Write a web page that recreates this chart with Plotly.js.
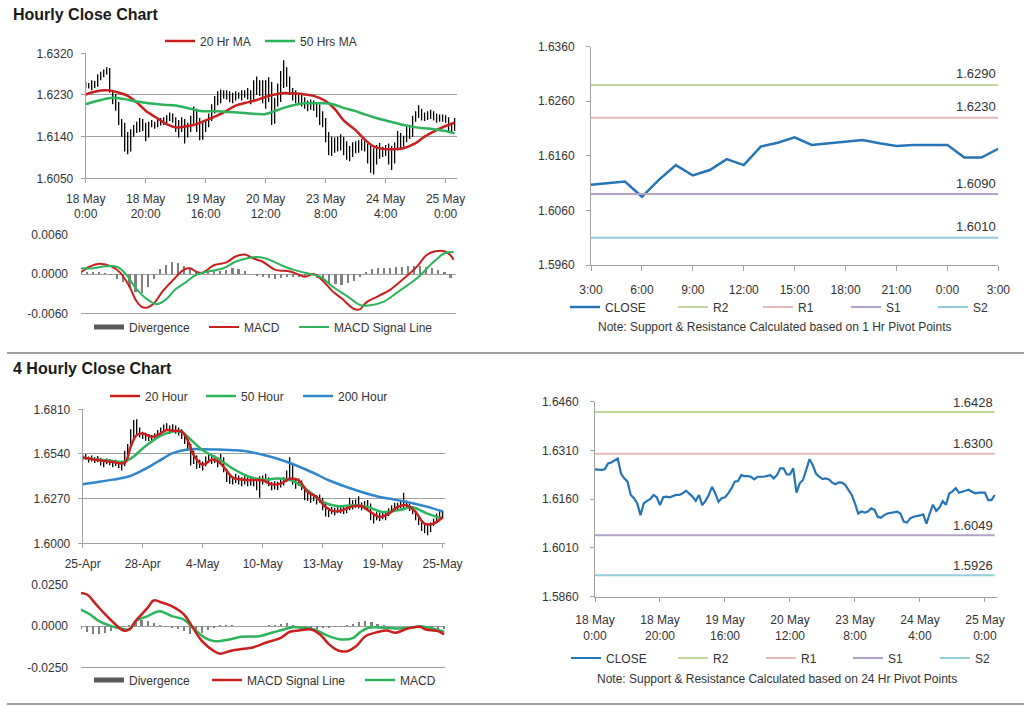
<!DOCTYPE html>
<html><head><meta charset="utf-8">
<script src="https://cdn.plot.ly/plotly-3.0.1.min.js"></script>
<style>html,body{margin:0;padding:0;background:#fff;}#chart{width:1024px;height:706px;}</style>
</head><body><div id="chart"></div>
<script>
// ---------- Hourly data (18 May 0:00 -> 25 May 3:00) ----------
const hourTickLabels = ['18 May<br>0:00','18 May<br>20:00','19 May<br>16:00','20 May<br>12:00','23 May<br>8:00','24 May<br>4:00','25 May<br>0:00'];
const hourlyClose = [
1.6252,1.6250,1.6250,1.6252,1.6270,1.6273,1.6278,1.6285,1.6239,1.6224,
1.6214,1.6173,1.6163,1.6147,1.6111,1.6147,1.6155,1.6160,1.6173,1.6166,
1.6142,1.6166,1.6168,1.6166,1.6170,1.6173,1.6173,1.6178,1.6186,1.6178,
1.6168,1.6155,1.6173,1.6142,1.6155,1.6173,1.6198,1.6178,1.6152,1.6163,
1.6166,1.6178,1.6193,1.6214,1.6216,1.6234,1.6231,1.6231,1.6229,1.6221,
1.6229,1.6229,1.6229,1.6232,1.6234,1.6224,1.6234,1.6255,1.6255,1.6236,
1.6236,1.6255,1.6180,1.6209,1.6219,1.6250,1.6283,1.6265,1.6239,1.6229,
1.6222,1.6224,1.6221,1.6211,1.6206,1.6212,1.6211,1.6204,1.6188,1.6173,
1.6147,1.6116,1.6122,1.6119,1.6122,1.6132,1.6127,1.6106,1.6103,1.6111,
1.6116,1.6118,1.6122,1.6122,1.6116,1.6091,1.6088,1.6101,1.6106,
1.6107,1.6110,1.6113,1.6085,1.6116,1.6143,1.6124,1.6134,1.6154,1.6143,
1.6177,1.6184,1.6194,1.6180,1.6183,1.6187,1.6189,1.6183,1.6178,1.6180,
1.6180,1.6180,1.6157,1.6157,1.6173];
const hourlyHigh = [
1.6258,1.6256,1.6262,1.6260,1.6275,1.6280,1.6285,1.6290,1.6288,1.6240,
1.6232,1.6215,1.6178,1.6170,1.6150,1.6156,1.6165,1.6172,1.6180,1.6178,
1.6170,1.6172,1.6176,1.6172,1.6178,1.6180,1.6182,1.6186,1.6192,1.6190,
1.6182,1.6176,1.6182,1.6178,1.6170,1.6185,1.6205,1.6200,1.6180,1.6172,
1.6175,1.6190,1.6210,1.6228,1.6238,1.6242,1.6240,1.6240,1.6238,1.6235,
1.6238,1.6236,1.6240,1.6240,1.6245,1.6240,1.6262,1.6270,1.6262,1.6262,
1.6262,1.6268,1.6258,1.6224,1.6255,1.6282,1.6305,1.6290,1.6270,1.6245,
1.6240,1.6234,1.6230,1.6225,1.6218,1.6220,1.6218,1.6215,1.6210,1.6195,
1.6180,1.6150,1.6140,1.6138,1.6140,1.6145,1.6140,1.6130,1.6120,1.6128,
1.6130,1.6132,1.6135,1.6132,1.6125,1.6120,1.6115,1.6122,1.6126,
1.6118,1.6122,1.6125,1.6120,1.6128,1.6152,1.6148,1.6142,1.6162,1.6160,
1.6185,1.6195,1.6208,1.6200,1.6192,1.6195,1.6198,1.6195,1.6190,1.6188,
1.6188,1.6186,1.6182,1.6170,1.6180];
const hourlyLow = [
1.6245,1.6244,1.6240,1.6245,1.6248,1.6262,1.6268,1.6274,1.6235,1.6210,
1.6196,1.6165,1.6140,1.6108,1.6102,1.6108,1.6140,1.6148,1.6150,1.6152,
1.6130,1.6138,1.6160,1.6157,1.6160,1.6164,1.6165,1.6168,1.6174,1.6170,
1.6150,1.6138,1.6150,1.6125,1.6138,1.6150,1.6168,1.6150,1.6132,1.6133,
1.6150,1.6160,1.6174,1.6190,1.6208,1.6212,1.6222,1.6220,1.6214,1.6212,
1.6218,1.6222,1.6218,1.6224,1.6220,1.6210,1.6218,1.6230,1.6228,1.6212,
1.6200,1.6215,1.6165,1.6168,1.6205,1.6215,1.6245,1.6248,1.6230,1.6218,
1.6212,1.6212,1.6205,1.6200,1.6195,1.6198,1.6196,1.6182,1.6165,1.6160,
1.6128,1.6100,1.6098,1.6105,1.6108,1.6110,1.6100,1.6090,1.6087,1.6096,
1.6104,1.6105,1.6110,1.6108,1.6082,1.6062,1.6058,1.6080,1.6092,
1.6096,1.6098,1.6080,1.6068,1.6082,1.6110,1.6115,1.6118,1.6128,1.6135,
1.6140,1.6172,1.6180,1.6175,1.6174,1.6176,1.6178,1.6175,1.6170,1.6172,
1.6172,1.6170,1.6150,1.6148,1.6152];
const ma20HourX = [0,3,7,10,14,17,20,24,27,30,34,37,40,44,47,50,54,57,60,63,66,70,73,76,80,83,86,90,93,96,100,103,106,110,113,116,120,123];
const ma20Hour  = [1.6231,1.6237,1.6240,1.6237,1.6228,1.6214,1.6196,1.6179,1.6167,1.6160,1.6163,1.6167,1.6175,1.6186,1.6196,1.6207,1.6214,1.6219,1.6226,1.6231,1.6234,1.6233,1.6231,1.6228,1.6217,1.6200,1.6175,1.6154,1.6134,1.6119,1.6113,1.6113,1.6115,1.6126,1.6140,1.6151,1.6163,1.6170];
const ma50HourX = [0,5,9,13,17,21,26,30,35,39,44,48,53,57,60,63,66,70,73,76,80,83,86,90,93,96,100,103,106,110,113,116,120,123];
const ma50Hour  = [1.6210,1.6219,1.6224,1.6221,1.6216,1.6212,1.6209,1.6207,1.6200,1.6195,1.6195,1.6193,1.6191,1.6189,1.6189,1.6195,1.6202,1.6209,1.6212,1.6212,1.6212,1.6209,1.6202,1.6195,1.6188,1.6182,1.6175,1.6170,1.6165,1.6160,1.6158,1.6156,1.6152,1.6147];
// hourly MACD
const macdHourX = [0,3,6,10,13,16,18,20,22,24,27,30,34,36,38,40,44,48,51,54,57,60,64,69,72,74,77,80,83,86,90,92,94,98,102,106,111,114,117,120,122,123];
const macdHour  = [0.0003,0.0012,0.0016,0.0012,0.0002,-0.0019,-0.0039,-0.0050,-0.0051,-0.0045,-0.0026,-0.0011,0.0007,0.0009,0.0004,0.0002,0.0014,0.0018,0.0027,0.0030,0.0024,0.0019,0.0007,0.0004,-0.0001,-0.0004,0.0000,-0.0011,-0.0026,-0.0037,-0.0053,-0.0054,-0.0044,-0.0034,-0.0024,-0.0009,0.0012,0.0029,0.0035,0.0035,0.0029,0.0022];
const signalHourX = [0,4,8,12,15,18,22,25,28,31,35,38,42,47,51,57,61,66,70,74,79,83,88,92,95,100,105,111,116,120,123];
const signalHour  = [0.0009,0.0009,0.0012,0.0011,-0.0001,-0.0021,-0.0039,-0.0046,-0.0039,-0.0024,-0.0011,-0.0001,0.0004,0.0009,0.0019,0.0026,0.0024,0.0014,0.0007,0.0002,-0.0004,-0.0019,-0.0034,-0.0047,-0.0048,-0.0042,-0.0026,-0.0006,0.0017,0.0032,0.0034];
const divergenceHour = [0.0002,0.0003,0.0004,0.0004,0.0002,-0.0002,-0.0007,-0.0012,-0.0020,-0.0027,
-0.0029,-0.0020,-0.0008,0.0008,0.0014,0.0018,0.0017,0.0012,0.0008,0.0004,
0.0001,0.0003,0.0006,0.0005,0.0007,0.0009,0.0008,0.0005,0.0001,-0.0003,
-0.0005,-0.0006,-0.0007,-0.0006,-0.0005,-0.0004,-0.0004,-0.0003,-0.0001,-0.0006,
-0.0010,-0.0013,-0.0015,-0.0016,-0.0014,-0.0010,-0.0005,0.0003,0.0008,0.0009,
0.0010,0.0010,0.0011,0.0011,0.0012,0.0013,0.0012,0.0011,0.0010,0.0007,
0.0003,-0.0006];
// last 24 hours (1 Hr pivots)
const dayTickLabels = ['3:00','6:00','9:00','12:00','15:00','18:00','21:00','0:00','3:00'];
const pivotNames = ['R2','R1','S1','S2'];
const pivots1h = [1.6290,1.6230,1.6090,1.6010];
const pivots24h = [1.6428,1.6300,1.6049,1.5926];

// ---------- 4 Hourly data (25 Apr -> 25 May) ----------
const fourTickLabels = ['25-Apr','28-Apr','4-May','10-May','13-May','19-May','25-May'];
const fourClose = [
1.6519,1.6523,1.6507,1.6513,1.6503,1.6507,1.6493,1.6482,1.6497,1.6493,
1.6482,1.6486,1.6478,1.6472,1.6513,1.6563,1.6634,1.6675,1.6715,1.6664,
1.6654,1.6644,1.6640,1.6634,1.6644,1.6664,1.6675,1.6695,1.6705,1.6681,
1.6695,1.6685,1.6675,1.6654,1.6634,1.6604,1.6493,1.6523,1.6472,1.6482,
1.6462,1.6493,1.6523,1.6503,1.6507,1.6482,1.6513,1.6462,1.6412,1.6391,
1.6381,1.6391,1.6381,1.6371,1.6381,1.6371,1.6377,1.6371,1.6361,1.6381,
1.6381,1.6397,1.6371,1.6341,1.6351,1.6345,1.6361,1.6371,1.6391,1.6412,
1.6381,1.6351,1.6371,1.6351,1.6290,1.6280,1.6270,1.6280,1.6260,1.6270,
1.6240,1.6189,1.6179,1.6199,1.6189,1.6209,1.6203,1.6195,1.6203,1.6220,
1.6230,1.6240,1.6230,1.6220,1.6230,1.6240,1.6179,1.6149,1.6169,1.6159,
1.6169,1.6163,1.6189,1.6209,1.6224,1.6220,1.6230,1.6224,1.6236,1.6220,
1.6203,1.6169,1.6139,1.6108,1.6098,1.6078,1.6098,1.6128,1.6159,1.6169,1.6169];
const fourHigh = [
1.6535,1.6540,1.6525,1.6530,1.6520,1.6528,1.6515,1.6505,1.6512,1.6510,
1.6500,1.6505,1.6498,1.6495,1.6560,1.6600,1.6690,1.6745,1.6750,1.6700,
1.6675,1.6668,1.6660,1.6655,1.6665,1.6685,1.6700,1.6718,1.6725,1.6712,
1.6720,1.6712,1.6700,1.6690,1.6665,1.6640,1.6600,1.6560,1.6530,1.6505,
1.6495,1.6525,1.6545,1.6535,1.6530,1.6520,1.6540,1.6520,1.6450,1.6415,
1.6405,1.6420,1.6410,1.6400,1.6405,1.6400,1.6400,1.6395,1.6390,1.6405,
1.6410,1.6420,1.6400,1.6370,1.6375,1.6372,1.6385,1.6400,1.6440,1.6520,
1.6480,1.6395,1.6392,1.6380,1.6345,1.6310,1.6300,1.6300,1.6290,1.6295,
1.6275,1.6240,1.6205,1.6220,1.6215,1.6230,1.6228,1.6220,1.6225,1.6275,
1.6260,1.6265,1.6285,1.6248,1.6255,1.6262,1.6240,1.6180,1.6190,1.6185,
1.6190,1.6188,1.6212,1.6230,1.6245,1.6245,1.6255,1.6305,1.6258,1.6245,
1.6225,1.6200,1.6165,1.6135,1.6120,1.6110,1.6125,1.6150,1.6180,1.6195,1.6198];
const fourLow = [
1.6500,1.6505,1.6488,1.6495,1.6485,1.6490,1.6470,1.6460,1.6478,1.6472,
1.6460,1.6468,1.6455,1.6440,1.6468,1.6520,1.6590,1.6640,1.6660,1.6640,
1.6630,1.6620,1.6618,1.6610,1.6622,1.6640,1.6652,1.6670,1.6680,1.6660,
1.6672,1.6662,1.6652,1.6630,1.6600,1.6560,1.6470,1.6480,1.6450,1.6455,
1.6440,1.6465,1.6495,1.6480,1.6485,1.6460,1.6490,1.6430,1.6370,1.6360,
1.6355,1.6365,1.6355,1.6345,1.6355,1.6345,1.6350,1.6345,1.6320,1.6275,
1.6355,1.6372,1.6345,1.6320,1.6325,1.6322,1.6338,1.6350,1.6370,1.6385,
1.6355,1.6330,1.6348,1.6320,1.6260,1.6255,1.6245,1.6255,1.6235,1.6245,
1.6200,1.6162,1.6158,1.6175,1.6168,1.6185,1.6182,1.6175,1.6182,1.6200,
1.6205,1.6215,1.6210,1.6200,1.6205,1.6205,1.6140,1.6120,1.6140,1.6135,
1.6145,1.6140,1.6165,1.6190,1.6200,1.6200,1.6210,1.6200,1.6210,1.6195,
1.6175,1.6140,1.6110,1.6075,1.6060,1.6048,1.6068,1.6105,1.6135,1.6145,1.6148];
const ma20FourX = [0,5,10,14,16,18,20,23,25,28,30,33,35,37,40,43,45,47,50,53,56,60,63,66,69,72,75,78,81,84,87,90,93,96,99,102,105,108,111,114,117,120];
const ma20Four  = [1.6519,1.6503,1.6491,1.6486,1.6584,1.6654,1.6664,1.6644,1.6654,1.6685,1.6681,1.6675,1.6624,1.6533,1.6475,1.6505,1.6497,1.6462,1.6397,1.6385,1.6381,1.6381,1.6357,1.6361,1.6391,1.6381,1.6310,1.6280,1.6220,1.6193,1.6203,1.6224,1.6224,1.6189,1.6159,1.6179,1.6220,1.6230,1.6189,1.6119,1.6119,1.6159];
const ma50FourX = [0,5,10,14,17,20,25,30,33,35,40,45,50,55,60,65,70,75,80,85,90,95,100,105,110,115,120];
const ma50Four  = [1.6519,1.6507,1.6497,1.6495,1.6525,1.6573,1.6640,1.6675,1.6673,1.6644,1.6563,1.6513,1.6452,1.6406,1.6385,1.6391,1.6377,1.6321,1.6250,1.6224,1.6230,1.6220,1.6189,1.6199,1.6216,1.6179,1.6149];
const ma200FourX = [0,5,10,15,20,25,30,35,40,45,50,55,60,66,71,77,82,88,93,99,104,110,115,120];
const ma200Four  = [1.6357,1.6370,1.6385,1.6402,1.6442,1.6493,1.6545,1.6567,1.6569,1.6567,1.6563,1.6555,1.6535,1.6505,1.6472,1.6425,1.6381,1.6340,1.6310,1.6280,1.6264,1.6242,1.6220,1.6192];
// 4 hourly MACD
const signalFourX = [0,2,5,8,12,14,16,18,22,24,27,30,34,37,40,44,46,49,52,57,61,66,69,72,76,79,82,85,88,91,94,98,101,104,108,112,114,118,120];
const signalFour  = [0.0202,0.0192,0.0132,0.0071,0.0000,-0.0026,-0.0020,0.0030,0.0111,0.0156,0.0142,0.0121,0.0071,-0.0010,-0.0091,-0.0152,-0.0168,-0.0152,-0.0142,-0.0128,-0.0101,-0.0071,-0.0034,-0.0026,-0.0020,-0.0051,-0.0111,-0.0148,-0.0152,-0.0121,-0.0061,-0.0036,-0.0026,-0.0040,-0.0014,-0.0004,-0.0020,-0.0030,-0.0051];
const macdFourX = [0,3,6,10,13,16,18,22,26,30,34,37,41,44,49,53,59,63,67,70,73,77,82,86,90,92,95,100,104,109,112,116,120];
const macdFour  = [0.0101,0.0071,0.0030,0.0000,-0.0014,-0.0020,0.0030,0.0061,0.0091,0.0061,0.0040,-0.0010,-0.0071,-0.0091,-0.0081,-0.0065,-0.0061,-0.0040,-0.0020,-0.0006,-0.0010,-0.0020,-0.0061,-0.0081,-0.0071,-0.0040,-0.0010,-0.0010,-0.0014,-0.0010,0.0000,-0.0014,-0.0034];
const divergenceFour = [-0.0020,-0.0035,-0.0045,-0.0045,-0.0040,-0.0030,-0.0015,-0.0005,0.0010,0.0025,
0.0035,0.0030,0.0020,0.0005,-0.0005,-0.0010,-0.0020,-0.0030,-0.0045,-0.0050,
-0.0040,-0.0025,-0.0010,0.0005,0.0005,0.0004,0.0003,0.0003,0.0002,0.0002,
0.0003,0.0005,0.0010,0.0015,0.0020,0.0005,-0.0005,-0.0010,-0.0015,-0.0015,
-0.0012,-0.0010,-0.0008,-0.0003,0.0008,0.0015,0.0028,0.0030,0.0025,0.0012,
0.0005,0.0002,0.0002,0.0001,0.0001,0.0002,-0.0003,-0.0008,-0.0010,-0.0015,-0.0020];

// ---------- styling ----------
const W = 1024, H = 706;
const FONT = 'Liberation Sans, Arial, sans-serif';
const TXT = '#333333';
const AX = '#A0A0A0';
const RED = '#C8201F', GREEN = '#2DB35A', BLUE = '#2F86CB', CLOSEBLUE = '#2474B6', DIVGRAY = '#808080', DIVKEY = '#595959';
const pivotColors = ['#C3D69B','#E6B9B8','#B3A2C7','#93CDDD'];
const xd = (a, b) => [a / W, b / W];
const yd = (top, bottom) => [1 - bottom / H, 1 - top / H];

function segments(low, high) {
  const x = [], y = [];
  low.forEach((l, i) => { x.push(i, i, null); y.push(l, high[i], null); });
  return {x, y};
}
const idx = n => Array.from({length: n}, (_, i) => i);
const every2 = n => Array.from({length: n}, (_, i) => 2 * i);

const traces = [];
// Panel A: hourly price
const segH = segments(hourlyLow, hourlyHigh);
traces.push({type:'scatter', mode:'lines', x:segH.x, y:segH.y, xaxis:'x', yaxis:'y', line:{color:'#000', width:1.3}, showlegend:false, hoverinfo:'skip'});
traces.push({type:'scatter', mode:'lines', name:'20 Hr MA', x:ma20HourX, y:ma20Hour, xaxis:'x', yaxis:'y', line:{color:RED, width:2.5, shape:'spline'}, legend:'legend'});
traces.push({type:'scatter', mode:'lines', name:'50 Hrs MA', x:ma50HourX, y:ma50Hour, xaxis:'x', yaxis:'y', line:{color:GREEN, width:2.5, shape:'spline'}, legend:'legend2'});
// Panel B: hourly MACD (bars drawn from data; legend key shown as a wide dark swatch like the original)
traces.push({type:'bar', name:'Divergence', x:every2(divergenceHour.length), y:divergenceHour, xaxis:'x2', yaxis:'y2', marker:{color:DIVGRAY}, width:0.7, showlegend:false});
traces.push({type:'scatter', mode:'lines', name:'Divergence', x:[null], y:[null], xaxis:'x2', yaxis:'y2', line:{color:DIVKEY, width:5}, legend:'legend3'});
traces.push({type:'scatter', mode:'lines', name:'MACD', x:macdHourX, y:macdHour, xaxis:'x2', yaxis:'y2', line:{color:RED, width:2, shape:'spline'}, legend:'legend4'});
traces.push({type:'scatter', mode:'lines', name:'MACD Signal Line', x:signalHourX, y:signalHour, xaxis:'x2', yaxis:'y2', line:{color:GREEN, width:2, shape:'spline'}, legend:'legend5'});
// Panel C: last 24 hours with 1 Hr pivots
const close24 = hourlyClose.slice(-25);
traces.push({type:'scatter', mode:'lines', name:'CLOSE', x:idx(close24.length), y:close24, xaxis:'x3', yaxis:'y3', line:{color:CLOSEBLUE, width:2.5}, legend:'legend6'});
pivotNames.forEach((n, k) => traces.push({type:'scatter', mode:'lines', name:n, x:[0, close24.length - 1], y:[pivots1h[k], pivots1h[k]], xaxis:'x3', yaxis:'y3', line:{color:pivotColors[k], width:2}, legend:'legend' + (7 + k)}));
// Panel D: 4 hourly price
const seg4 = segments(fourLow, fourHigh);
traces.push({type:'scatter', mode:'lines', x:seg4.x, y:seg4.y, xaxis:'x4', yaxis:'y4', line:{color:'#000', width:1.3}, showlegend:false, hoverinfo:'skip'});
traces.push({type:'scatter', mode:'lines', name:'200 Hour', x:ma200FourX, y:ma200Four, xaxis:'x4', yaxis:'y4', line:{color:BLUE, width:2.5, shape:'spline'}, legend:'legend13'});
traces.push({type:'scatter', mode:'lines', name:'50 Hour', x:ma50FourX, y:ma50Four, xaxis:'x4', yaxis:'y4', line:{color:GREEN, width:2.5, shape:'spline'}, legend:'legend12'});
traces.push({type:'scatter', mode:'lines', name:'20 Hour', x:ma20FourX, y:ma20Four, xaxis:'x4', yaxis:'y4', line:{color:RED, width:2.5, shape:'spline'}, legend:'legend11'});
// Panel E: 4 hourly MACD
traces.push({type:'bar', name:'Divergence', x:every2(divergenceFour.length), y:divergenceFour, xaxis:'x5', yaxis:'y5', marker:{color:DIVGRAY}, width:0.7, showlegend:false});
traces.push({type:'scatter', mode:'lines', name:'Divergence', x:[null], y:[null], xaxis:'x5', yaxis:'y5', line:{color:DIVKEY, width:5}, legend:'legend14'});
traces.push({type:'scatter', mode:'lines', name:'MACD', x:macdFourX, y:macdFour, xaxis:'x5', yaxis:'y5', line:{color:GREEN, width:2.5, shape:'spline'}, legend:'legend16'});
traces.push({type:'scatter', mode:'lines', name:'MACD Signal Line', x:signalFourX, y:signalFour, xaxis:'x5', yaxis:'y5', line:{color:RED, width:2.5, shape:'spline'}, legend:'legend15'});
// Panel F: hourly close with 24 Hr pivots
traces.push({type:'scatter', mode:'lines', name:'CLOSE', x:idx(hourlyClose.length), y:hourlyClose, xaxis:'x6', yaxis:'y6', line:{color:CLOSEBLUE, width:2.2}, legend:'legend17'});
pivotNames.forEach((n, k) => traces.push({type:'scatter', mode:'lines', name:n, x:[0, hourlyClose.length - 1], y:[pivots24h[k], pivots24h[k]], xaxis:'x6', yaxis:'y6', line:{color:pivotColors[k], width:2}, legend:'legend' + (18 + k)}));

// legends positioned in pixels
function leg(xp, yp) {
  return {x: xp / W, y: 1 - yp / H, xanchor:'left', yanchor:'middle', orientation:'h', bgcolor:'rgba(0,0,0,0)', borderwidth:0, itemwidth:30, font:{family:FONT, size:12, color:TXT}};
}
const legendPos = {
  legend:[160,41], legend2:[260,41],
  legend3:[89,327], legend4:[204,327], legend5:[294,327],
  legend6:[565,307], legend7:[673,307], legend8:[758,307], legend9:[846,307], legend10:[933,307],
  legend11:[105,396], legend12:[201,396], legend13:[298,396],
  legend14:[89,680], legend15:[207,680], legend16:[360,680],
  legend17:[566,658], legend18:[673,658], legend19:[761,658], legend20:[848,658], legend21:[935,658]
};

const tickFont = {family:FONT, size:12, color:TXT};
const baseAxis = {showline:true, linecolor:AX, linewidth:1, ticks:'outside', tickcolor:AX, ticklen:4, tickfont:tickFont, zeroline:false, showgrid:false, fixedrange:true, ticklabelstandoff:5};

const layout = {
  width:W, height:H, margin:{l:0, r:0, t:0, b:0}, paper_bgcolor:'#fff', plot_bgcolor:'rgba(0,0,0,0)',
  font:{family:FONT, size:12, color:TXT}, hovermode:false, showlegend:true, bargap:0,
  xaxis: Object.assign({}, baseAxis, {domain:xd(85.7, 457), range:[0, 123.8], anchor:'y', tickmode:'array', tickvals:[0,20,40,60,80,100,120], ticktext:hourTickLabels}),
  yaxis: Object.assign({}, baseAxis, {domain:yd(53.3, 178.3), range:[1.6050, 1.6320], anchor:'x', tickmode:'array', tickvals:[1.6050,1.6140,1.6230,1.6320], tickformat:'.4f', showgrid:true, gridcolor:AX}),
  xaxis2: Object.assign({}, baseAxis, {domain:xd(81, 456), range:[0, 123.8], anchor:'y2', showticklabels:false, ticks:''}),
  yaxis2: Object.assign({}, baseAxis, {domain:yd(235, 313.3), range:[-0.006, 0.006], anchor:'x2', tickmode:'array', tickvals:[-0.006,0,0.006], ticktext:['-0.0060','0.0000','0.0060'], showgrid:true, gridcolor:AX, showline:false, ticks:'', ticklabelstandoff:12}),
  xaxis3: Object.assign({}, baseAxis, {domain:xd(591, 998.3), range:[0, 24], anchor:'y3', tickmode:'array', tickvals:[0,3,6,9,12,15,18,21,24], ticktext:dayTickLabels, ticklabelstandoff:9, ticklen:5}),
  yaxis3: Object.assign({}, baseAxis, {domain:yd(46.7, 265), range:[1.5960, 1.6360], anchor:'x3', tickmode:'array', tickvals:[1.5960,1.6060,1.6160,1.6260,1.6360], tickformat:'.4f', ticklabelstandoff:9}),
  xaxis4: Object.assign({}, baseAxis, {domain:xd(82.7, 445), range:[0, 120.8], anchor:'y4', tickmode:'array', tickvals:[0,20,40,60,80,100,120], ticktext:fourTickLabels}),
  yaxis4: Object.assign({}, baseAxis, {domain:yd(409.3, 543.3), range:[1.6000, 1.6810], anchor:'x4', tickmode:'array', tickvals:[1.6000,1.6270,1.6540,1.6810], tickformat:'.4f', showgrid:true, gridcolor:AX}),
  xaxis5: Object.assign({}, baseAxis, {domain:xd(81, 445), range:[0, 120.3], anchor:'y5', showticklabels:false, ticks:''}),
  yaxis5: Object.assign({}, baseAxis, {domain:yd(585, 667.3), range:[-0.025, 0.025], anchor:'x5', tickmode:'array', tickvals:[-0.025,0,0.025], ticktext:['-0.0250','0.0000','0.0250'], showgrid:true, gridcolor:AX, showline:false, ticks:'', ticklabelstandoff:12}),
  xaxis6: Object.assign({}, baseAxis, {domain:xd(595, 997.3), range:[0, 123.8], anchor:'y6', tickmode:'array', tickvals:[0,20,40,60,80,100,120], ticktext:hourTickLabels, ticklabelstandoff:8}),
  yaxis6: Object.assign({}, baseAxis, {domain:yd(401.7, 596.7), range:[1.5860, 1.6460], anchor:'x6', tickmode:'array', tickvals:[1.5860,1.6010,1.6160,1.6310,1.6460], tickformat:'.4f', ticklabelstandoff:9}),
  shapes:[
    {type:'line', xref:'paper', yref:'paper', x0:7/W, x1:1, y0:1-353/H, y1:1-353/H, line:{color:'#A0A0A0', width:2}},
    {type:'line', xref:'paper', yref:'paper', x0:7/W, x1:1, y0:1-704/H, y1:1-704/H, line:{color:'#A0A0A0', width:2}}
  ],
  annotations:[
    {xref:'paper', yref:'paper', x:11/W, y:1-15/H, xanchor:'left', yanchor:'middle', showarrow:false, text:'<b>Hourly Close Chart</b>', font:{family:FONT, size:16, color:'#1a1a1a'}},
    {xref:'paper', yref:'paper', x:11/W, y:1-368/H, xanchor:'left', yanchor:'middle', showarrow:false, text:'<b>4 Hourly Close Chart</b>', font:{family:'Liberation Sans Narrow, Arial Narrow, Liberation Sans, sans-serif', size:16, color:'#1a1a1a'}},
    {xref:'paper', yref:'paper', x:775/W, y:1-327/H, xanchor:'center', yanchor:'middle', showarrow:false, text:'Note: Support &amp; Resistance Calculated based on 1 Hr Pivot Points', font:{family:FONT, size:12, color:TXT}},
    {xref:'paper', yref:'paper', x:777/W, y:1-679/H, xanchor:'center', yanchor:'middle', showarrow:false, text:'Note: Support &amp; Resistance Calculated based on 24 Hr Pivot Points', font:{family:FONT, size:12, color:TXT}}
  ]
};
Object.keys(legendPos).forEach(k => { layout[k] = leg(legendPos[k][0], legendPos[k][1]); });
pivots1h.forEach(v => layout.annotations.push({xref:'x3', yref:'y3', x:24, y:v, xanchor:'right', yanchor:'middle', yshift:11, showarrow:false, text:v.toFixed(4), font:{family:FONT, size:13, color:TXT}}));
pivots24h.forEach(v => layout.annotations.push({xref:'x6', yref:'y6', x:hourlyClose.length - 1, y:v, xanchor:'right', yanchor:'middle', yshift:10, showarrow:false, text:v.toFixed(4), font:{family:FONT, size:13, color:TXT}}));

Plotly.newPlot('chart', traces, layout, {displayModeBar:false, staticPlot:true});
</script></body></html>
